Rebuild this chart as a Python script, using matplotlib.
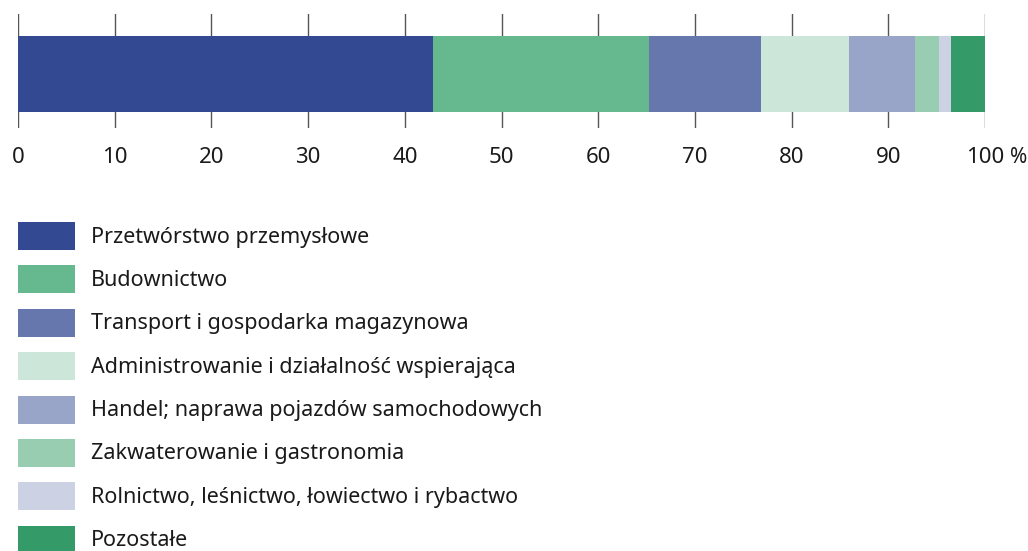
import matplotlib.pyplot as plt
from matplotlib.patches import Rectangle

plt.rcParams['font.family'] = ['Noto Sans', 'DejaVu Sans']

categories = [
    "Przetwórstwo przemysłowe",
    "Budownictwo",
    "Transport i gospodarka magazynowa",
    "Administrowanie i działalność wspierająca",
    "Handel; naprawa pojazdów samochodowych",
    "Zakwaterowanie i gastronomia",
    "Rolnictwo, leśnictwo, łowiectwo i rybactwo",
    "Pozostałe",
]
shares = [42.9, 22.4, 11.5, 9.1, 6.9, 2.4, 1.3, 3.5]
colors = ["#334a93", "#66b88f", "#6677ae", "#cce6da",
          "#98a5c9", "#99cdb2", "#ccd2e4", "#339a68"]
tick_values = [0, 10, 20, 30, 40, 50, 60, 70, 80, 90, 100]
tick_labels = ["0", "10", "20", "30", "40", "50", "60", "70", "80", "90", "100"]

W, H = 1028, 551
fig = plt.figure(figsize=(W / 100, H / 100), dpi=100)
ax = fig.add_axes([18 / W, 1 - 128 / H, 967 / W, 114 / H])

left = 0
for val, col in zip(shares, colors):
    ax.barh(0.474, val, left=left, height=0.667, color=col, zorder=2)
    left += val

ax.set_xlim(0, 100)
ax.set_ylim(0, 1)
ax.set_yticks([])
ax.set_xticks(tick_values)
ax.set_xticklabels(tick_labels, fontsize=16, color="#1a1a1a")
ax.tick_params(axis='x', length=0, pad=14)
ax.grid(axis='x', color="#555555", linewidth=1, zorder=0)
for s in ax.spines.values():
    s.set_visible(False)

# percent sign after the last tick label
ax.annotate("%", xy=(100, 0), xycoords='data', xytext=(18, -14),
            textcoords='offset points', ha='left', va='top',
            fontsize=15, color="#1a1a1a", annotation_clip=False)

# legend drawn in pixel coordinates
lax = fig.add_axes([0, 0, 1, 1])
lax.set_xlim(0, W)
lax.set_ylim(H, 0)
lax.axis('off')
for i, (name, col) in enumerate(zip(categories, colors)):
    top = 222 + i * 43.4
    lax.add_patch(Rectangle((18, top), 57, 28, facecolor=col, edgecolor='none'))
    lax.text(91, top + 15, name, va='center', ha='left',
             fontsize=15.5, color="#1a1a1a")

fig.savefig("out.png", dpi=100)
